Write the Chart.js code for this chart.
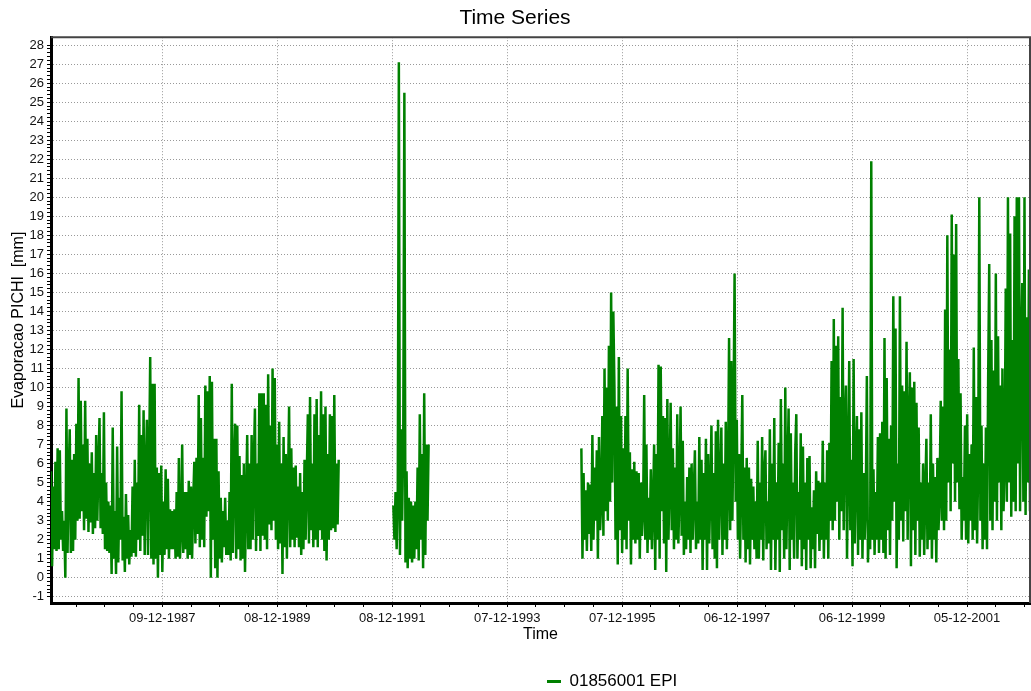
<!DOCTYPE html>
<html>
<head>
<meta charset="utf-8">
<script src="https://cdn.jsdelivr.net/npm/chart.js@4.4.0/dist/chart.umd.min.js"></script>
<style>
  html, body { margin: 0; padding: 0; background: #fff; }
</style>
</head>
<body>
<canvas id="myChart" width="1031" height="691"></canvas>
<script>
// weekly readings (mm)
const stepDays = 7;
const seg1Start = '1986-01-01';
const seg1Values = [
  5.6, 0.6, 4.8, 1.5, 6.1, 1.4, 6.8, 1.5, 6.7, 2.0,
  3.5, 1.4, 3.0, 0.0, 8.9, 1.3, 5.2, 7.8, 1.3, 6.2,
  1.4, 6.5, 2.0, 8.1, 3.0, 10.5, 3.1, 9.3, 3.5, 7.0,
  2.5, 9.3, 3.1, 7.3, 2.4, 6.0, 2.9, 6.6, 2.3, 5.5,
  2.6, 7.5, 3.0, 5.8, 8.4, 2.6, 5.5, 2.3, 8.7, 1.5,
  5.0, 1.4, 4.0, 1.3, 3.8, 0.2, 7.9, 1.0, 3.5, 0.2,
  6.9, 0.8, 4.2, 2.0, 9.8, 0.9, 3.2, 0.3, 4.4, 1.0,
  3.3, 0.7, 2.5, 1.1, 4.8, 1.3, 6.2, 1.1, 5.0, 2.0,
  9.1, 1.4, 7.5, 2.2, 8.8, 1.2, 5.5, 8.3, 1.2, 6.0,
  11.6, 1.0, 10.2, 0.7, 10.2, 1.0, 5.8, 0.0, 5.5, 1.2,
  5.9, 0.3, 4.0, 1.2, 5.7, 1.5, 5.2, 1.0, 3.6, 1.5,
  3.5, 1.5, 3.6, 1.0, 4.5, 1.1, 6.3, 1.0, 2.5, 7.0,
  1.3, 4.5, 1.5, 4.5, 1.0, 5.1, 1.2, 4.8, 1.0, 4.0,
  6.1, 1.8, 6.3, 2.3, 9.6, 1.6, 8.4, 2.0, 6.3, 1.6,
  10.1, 3.2, 9.8, 3.5, 10.6, 0.0, 10.3, 2.0, 7.3, 0.5,
  7.3, 0.0, 5.6, 1.0, 4.2, 0.8, 3.5, 1.6, 4.2, 1.2,
  3.0, 1.2, 4.5, 0.9, 10.2, 1.3, 5.8, 8.1, 1.0, 8.0,
  1.5, 6.4, 0.9, 5.4, 1.0, 6.0, 0.3, 4.0, 7.5, 1.5,
  6.0, 1.5, 7.5, 2.0, 6.0, 8.9, 1.4, 6.0, 2.2, 9.7,
  1.4, 9.7, 2.2, 9.7, 2.0, 9.1, 1.5, 10.7, 2.8, 8.0,
  2.5, 11.0, 3.0, 10.5, 2.0, 7.0, 1.5, 8.2, 1.8, 6.0,
  0.2, 7.4, 1.6, 6.5, 1.0, 5.0, 9.0, 1.6, 6.8, 2.0,
  5.8, 1.6, 5.9, 2.1, 4.8, 1.6, 5.5, 1.2, 4.5, 1.5,
  6.2, 2.0, 5.2, 8.6, 1.8, 9.5, 2.5, 6.0, 1.6, 8.6,
  2.0, 9.4, 1.6, 7.5, 2.5, 9.8, 2.0, 8.6, 1.4, 9.0,
  0.9, 6.5, 2.0, 8.6, 2.5, 8.5, 2.6, 9.6, 2.4, 6.0, 2.8, 6.2
];
const seg2Start = '1991-12-15';
const seg2Values = [
  3.8, 2.0, 4.5, 1.5, 4.0, 27.1, 1.2, 7.8, 3.0, 7.4,
  25.5, 0.8, 5.6, 0.5, 4.2, 1.0, 4.0, 0.8, 3.8, 1.0,
  4.0, 1.5, 5.8, 0.9, 8.6, 2.0, 6.5, 0.5, 9.7, 1.2,
  7.0, 3.0, 7.0
];
const seg3Start = '1995-03-23';
const seg3Values = [
  6.8, 1.0, 5.5, 2.0, 4.6, 1.4, 5.0, 2.3, 4.9, 1.4,
  7.5, 2.0, 5.8, 3.0, 6.7, 1.0, 7.4, 2.5, 4.0, 8.5,
  2.2, 11.0, 3.5, 10.0, 3.0, 12.2, 4.0, 15.0, 5.0, 14.0,
  10.0, 2.0, 9.0, 0.7, 11.6, 2.5, 8.5, 1.3, 6.8, 2.0,
  8.5, 1.5, 11.0, 3.0, 6.6, 0.7, 5.7, 2.0, 6.1, 1.8,
  5.6, 2.0, 5.5, 1.0, 5.0, 2.2, 3.5, 9.6, 2.0, 7.0,
  1.3, 4.2, 2.0, 5.7, 1.5, 3.8, 7.0, 0.4, 6.5, 2.0,
  11.2, 1.0, 11.1, 3.5, 8.5, 1.8, 8.4, 0.3, 9.4, 2.0,
  5.0, 9.2, 2.5, 6.8, 1.5, 5.8, 2.0, 8.6, 1.8, 4.5,
  9.0, 2.2, 7.2, 1.2, 4.0, 1.5, 5.3, 2.0, 5.8, 1.3,
  6.0, 2.0, 4.5, 6.7, 1.5, 4.0, 1.8, 7.4, 2.0, 6.2,
  0.4, 5.5, 2.0, 7.3, 0.4, 6.5, 1.8, 4.5, 8.0, 1.5,
  5.5, 1.0, 7.7, 0.5, 8.3, 2.0, 5.0, 7.9, 1.2, 6.0,
  2.0, 8.2, 1.5, 5.0, 12.6, 2.5, 11.4, 3.0, 8.5, 16.0,
  4.0, 8.3, 2.0, 6.5, 1.0, 5.0, 9.6, 2.0, 5.8, 0.8,
  6.3, 1.5, 5.8, 0.7, 5.2, 2.0, 4.8, 1.5, 4.0, 1.0,
  7.2, 1.0, 5.0, 2.0, 7.4, 0.9, 5.5, 6.7, 1.5, 4.0,
  1.8, 7.8, 0.4, 6.0, 2.0, 8.4, 0.4, 5.0, 2.0, 7.1,
  0.3, 9.4, 2.5, 6.0, 1.0, 10.0, 1.5, 5.5, 8.9, 0.4,
  7.6, 2.0, 5.0, 1.0, 6.6, 8.6, 1.0, 4.5, 2.0, 7.6,
  0.6, 6.9, 1.5, 5.0, 0.4, 6.3, 2.0, 6.4, 0.5, 3.7,
  1.5, 4.6, 0.5, 5.6, 2.3, 5.1, 1.4, 5.0, 2.0, 7.2,
  1.0, 5.0, 2.0, 6.7, 1.0, 7.1, 3.0, 11.4, 2.5, 13.6,
  3.0, 12.2, 4.0, 12.7, 2.0, 9.5, 3.5, 14.2, 2.5, 8.0,
  10.1, 1.0, 6.0, 11.4, 2.5, 6.2, 0.6, 11.5, 1.8, 6.0,
  8.5, 1.2, 7.8, 2.0, 8.7, 1.0, 5.5, 2.0, 4.0, 10.6,
  0.8, 3.0, 1.5, 21.9, 2.0, 5.7, 1.2, 4.5, 2.0, 7.4,
  1.3, 7.6, 2.0, 8.2, 1.3, 12.6, 1.0, 10.5, 2.5, 7.3,
  1.2, 8.0, 3.0, 14.8, 4.0, 13.1, 0.5, 6.0, 2.0, 14.8,
  3.0, 10.1, 1.9, 9.8, 3.5, 12.4, 2.0, 8.0, 10.8, 0.6,
  10.0, 2.5, 10.3, 1.2, 9.2, 3.0, 7.9, 1.1, 5.0, 2.0,
  6.0, 1.2, 4.5, 7.3, 1.5, 5.0, 2.0, 8.6, 1.0, 6.0,
  2.0, 5.3, 0.8, 6.3, 2.5, 4.5, 9.3, 3.0, 9.0, 2.5,
  14.1, 3.0, 18.0, 5.0, 12.0, 3.5, 19.1, 6.0, 17.0, 4.0,
  18.6, 5.0, 11.5, 3.6, 9.7, 2.0, 5.3, 3.0, 8.0, 2.0,
  8.6, 1.8, 6.5, 3.0, 7.0, 2.0, 12.1, 2.5, 9.5, 1.8,
  6.0, 20.0, 3.0, 8.0, 1.5, 6.0, 2.0, 7.9, 1.5, 10.2,
  16.5, 3.0, 12.5, 2.5, 10.9, 4.0, 16.0, 3.0, 12.7, 5.0,
  10.1, 2.5, 11.0, 3.5, 6.0, 15.2, 4.0, 20.0, 5.0, 18.1,
  3.2, 12.5, 4.0, 19.0, 3.5, 20.0, 6.0, 20.0, 3.5, 12.0,
  15.5, 4.0, 20.0, 3.3, 13.7, 5.0, 16.2, 3.5
];

const xStart = '1986-01-01';
const xEnd = '2003-01-09';
const firstLabelDate = '1987-12-09';  // labelled ticks every 730 days
const yTickMin = -1, yTickMax = 28;

const lineColor = '#008000';
const fontFamily = "'Liberation Sans', Arial, sans-serif";
const DAY = 86400000;

function day(s) {
  return Date.UTC(+s.slice(0, 4), +s.slice(5, 7) - 1, +s.slice(8, 10)) / DAY;
}
function pad2(n) { return (n < 10 ? '0' : '') + n; }
function fmtDate(v) {
  const d = new Date(Math.round(v) * DAY);
  return pad2(d.getUTCDate()) + '-' + pad2(d.getUTCMonth() + 1) + '-' + d.getUTCFullYear();
}
function segment(start, values) {
  const d0 = day(start);
  return values.map((v, i) => ({x: d0 + i * stepDays, y: v}));
}

const seg1 = segment(seg1Start, seg1Values);
const seg2 = segment(seg2Start, seg2Values);
const seg3 = segment(seg3Start, seg3Values);
const points = [
  ...seg1, {x: seg1[seg1.length - 1].x + 1, y: null},
  ...seg2, {x: seg2[seg2.length - 1].x + 1, y: null},
  ...seg3
];

const labelBase = day(firstLabelDate);
function isMajorX(v) {
  const k = (v - labelBase) / 730;
  return Math.abs(k - Math.round(k)) < 1e-6;
}
function isMajorY(v) {
  return Math.abs(v - Math.round(v)) < 1e-6;
}

// frame on top and right side of the plot
const framePlugin = {
  id: 'frame',
  beforeDraw(chart) {
    // legend sits a bit right of centre in the original
    const lg = chart.legend;
    lg.left = 537;
    lg.top = 663;
  },
  afterDraw(chart) {
    const {ctx, chartArea: a} = chart;
    ctx.save();
    ctx.strokeStyle = '#444';
    ctx.lineWidth = 2;
    ctx.beginPath();
    ctx.moveTo(a.left, a.top);
    ctx.lineTo(a.right, a.top);
    ctx.lineTo(a.right, a.bottom);
    ctx.stroke();
    ctx.restore();
  }
};

const ctx = document.getElementById('myChart').getContext('2d');
const myChart = new Chart(ctx, {
  type: 'line',
  data: {
    datasets: [{
      label: '01856001 EPI',
      data: points,
      borderColor: lineColor,
      backgroundColor: lineColor,
      borderWidth: 2.5,
      pointRadius: 0,
      tension: 0,
      spanGaps: false
    }]
  },
  options: {
    responsive: false,
    animation: false,
    layout: { padding: {left: 0, right: 1, top: 0, bottom: 0} },
    plugins: {
      title: {
        display: true,
        text: 'Time Series',
        color: '#000',
        font: {family: fontFamily, size: 21, weight: 'normal'},
        padding: {top: 6, bottom: 6}
      },
      legend: {
        position: 'bottom',
        align: 'start',
        labels: {
          color: '#000',
          font: {family: fontFamily, size: 17},
          boxWidth: 14,
          boxHeight: 3,
          padding: 10,
          generateLabels: (chart) =>
            Chart.defaults.plugins.legend.labels.generateLabels(chart)
              .map(l => ({...l, lineWidth: 0, fillStyle: lineColor}))
        }
      },
      tooltip: { enabled: false }
    },
    scales: {
      x: {
        type: 'linear',
        min: day(xStart),
        max: day(xEnd),
        afterBuildTicks: (scale) => {
          const ticks = [];
          for (let k = -3; labelBase + k * 182.5 <= scale.max; k++) {
            ticks.push({value: labelBase + k * 182.5});
          }
          scale.ticks = ticks;
        },
        afterFit: (scale) => { scale.height = 51; },
        ticks: {
          autoSkip: false,
          maxRotation: 0,
          padding: 4,
          color: '#111',
          font: {family: fontFamily, size: 13},
          callback: (v) => isMajorX(v) ? fmtDate(v) : ''
        },
        grid: {
          color: (c) => c.tick && isMajorX(c.tick.value) ? '#999' : 'rgba(0,0,0,0)',
          tickColor: '#000',
          tickLength: 4,
          lineWidth: 1
        },
        border: { color: '#000', width: 3, dash: [1, 2] },
        title: {
          display: true,
          text: 'Time',
          color: '#000',
          font: {family: fontFamily, size: 16},
          padding: {top: 0, bottom: 10}
        }
      },
      y: {
        min: -1.33,
        max: 28.42,
        afterBuildTicks: (scale) => {
          const ticks = [];
          for (let k = yTickMin * 5; k <= yTickMax * 5; k++) ticks.push({value: k / 5});
          scale.ticks = ticks;
        },
        afterFit: (scale) => { scale.width = 51; },
        ticks: {
          autoSkip: false,
          padding: 3,
          color: '#111',
          font: {family: fontFamily, size: 13},
          callback: (v) => isMajorY(v) ? String(Math.round(v)) : ''
        },
        grid: {
          color: (c) => c.tick && isMajorY(c.tick.value) ? '#999' : 'rgba(0,0,0,0)',
          tickColor: '#000',
          tickLength: 4,
          lineWidth: 1
        },
        border: { color: '#000', width: 3, dash: [1, 2] },
        title: {
          display: true,
          text: 'Evaporacao PICHI  [mm]',
          color: '#000',
          font: {family: fontFamily, size: 16},
          padding: {top: 9, bottom: 0}
        }
      }
    }
  },
  plugins: [framePlugin]
});
</script>
</body>
</html>
